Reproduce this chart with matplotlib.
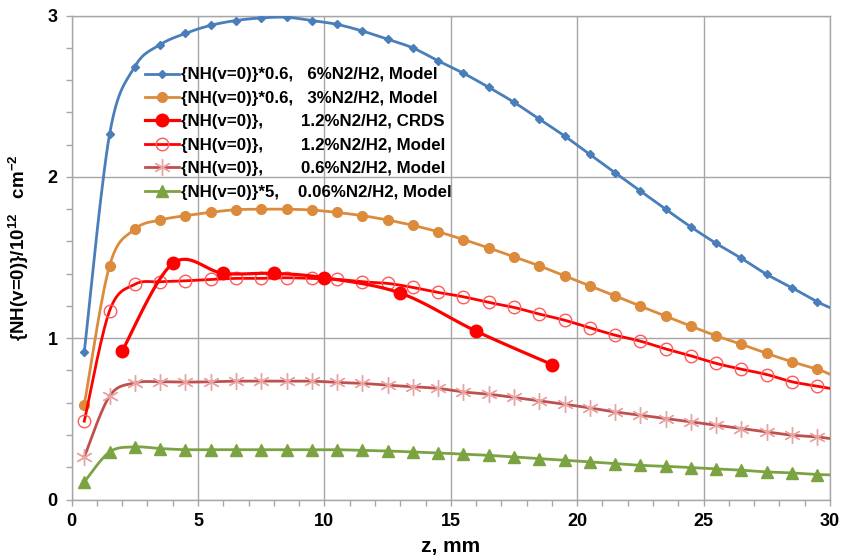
import numpy as np
import matplotlib
matplotlib.use("Agg")
import matplotlib.pyplot as plt
from matplotlib.ticker import MultipleLocator

plt.rcParams['font.family'] = ['Liberation Sans', 'DejaVu Sans']
plt.rcParams['font.weight'] = 'bold'
plt.rcParams['mathtext.fontset'] = 'custom'
plt.rcParams['mathtext.rm'] = 'Liberation Sans:bold'
plt.rcParams['mathtext.default'] = 'rm'

# model grid (last point = where the line meets the right edge, no marker)
z_model = [0.5, 1.5, 2.5, 3.5, 4.5, 5.5, 6.5, 7.5, 8.5, 9.5,
           10.5, 11.5, 12.5, 13.5, 14.5, 15.5, 16.5, 17.5, 18.5, 19.5,
           20.5, 21.5, 22.5, 23.5, 24.5, 25.5, 26.5, 27.5, 28.5, 29.5, 30.0]

nh_6pct = [0.916, 2.264, 2.684, 2.82, 2.89, 2.94, 2.97, 2.986, 2.99, 2.97,
           2.946, 2.905, 2.854, 2.80, 2.72, 2.643, 2.556, 2.463, 2.359, 2.254,
           2.14, 2.026, 1.913, 1.80, 1.69, 1.588, 1.495, 1.396, 1.313, 1.226, 1.19]

nh_3pct = [0.589, 1.45, 1.676, 1.733, 1.76, 1.781, 1.797, 1.80, 1.80, 1.795,
           1.78, 1.76, 1.733, 1.70, 1.66, 1.612, 1.56, 1.505, 1.449, 1.387,
           1.325, 1.263, 1.199, 1.137, 1.075, 1.015, 0.962, 0.906, 0.854, 0.808, 0.777]

nh_12pct = [0.486, 1.17, 1.334, 1.35, 1.356, 1.365, 1.371, 1.371, 1.375, 1.371,
            1.365, 1.35, 1.34, 1.315, 1.284, 1.257, 1.222, 1.191, 1.15, 1.112,
            1.065, 1.019, 0.982, 0.934, 0.891, 0.844, 0.808, 0.775, 0.73, 0.703, 0.689]

nh_06pct = [0.264, 0.641, 0.723, 0.73, 0.728, 0.73, 0.734, 0.734, 0.734, 0.734,
            0.726, 0.72, 0.709, 0.699, 0.689, 0.667, 0.653, 0.633, 0.612, 0.591,
            0.568, 0.543, 0.523, 0.502, 0.481, 0.461, 0.44, 0.419, 0.399, 0.388, 0.378]

nh_006pct = [0.109, 0.295, 0.326, 0.316, 0.309, 0.309, 0.309, 0.309, 0.309, 0.309,
             0.309, 0.305, 0.301, 0.295, 0.289, 0.281, 0.274, 0.264, 0.254, 0.243,
             0.233, 0.223, 0.212, 0.206, 0.198, 0.19, 0.182, 0.171, 0.165, 0.155, 0.153]

z_crds = [2, 4, 6, 8, 10, 13, 16, 19]
nh_crds = [0.922, 1.464, 1.402, 1.402, 1.375, 1.28, 1.044, 0.837]

labels = [
    "{NH(v=0)}*0.6,   6%N2/H2, Model",
    "{NH(v=0)}*0.6,   3%N2/H2, Model",
    "{NH(v=0)},        1.2%N2/H2, CRDS",
    "{NH(v=0)},        1.2%N2/H2, Model",
    "{NH(v=0)},        0.6%N2/H2, Model",
    "{NH(v=0)}*5,    0.06%N2/H2, Model",
]


def smooth(x, y, n=16):
    # Catmull-Rom curve through the points, like Excel's smoothed lines
    p = np.column_stack([x, y]).astype(float)
    p = np.vstack([p[0], p, p[-1]])
    t = np.linspace(0, 1, n, endpoint=False)[:, None]
    seg = []
    for i in range(1, len(p) - 2):
        p0, p1, p2, p3 = p[i - 1], p[i], p[i + 1], p[i + 2]
        seg.append(0.5 * (2 * p1 + (p2 - p0) * t
                          + (2 * p0 - 5 * p1 + 4 * p2 - p3) * t ** 2
                          + (3 * p1 - p0 - 3 * p2 + p3) * t ** 3))
    seg.append(p[-2:-1])
    c = np.vstack(seg)
    return c[:, 0], c[:, 1]


fig = plt.figure(figsize=(8.43, 5.6), dpi=100)
ax = fig.add_axes([0.085, 0.108, 0.8995, 0.864])

styles = [
    (nh_6pct, dict(color='#4A7EBB', lw=2.0), dict(marker='D', ms=4.5, mfc='#4A7EBB', mec='#4A7EBB')),
    (nh_3pct, dict(color='#DB8B3B', lw=2.0), dict(marker='o', ms=7, mfc='#DB8B3B', mec='#DB8B3B')),
    (None, dict(color='#FF0000', lw=2.3), dict(marker='o', ms=9, mfc='#FF0000', mec='#FF0000')),
    (nh_12pct, dict(color='#FF0000', lw=2.0), dict(marker='o', ms=9, mfc='none', mec='#FF5A5A', mew=1.0)),
    (nh_06pct, dict(color='#C0504D', lw=2.0), dict(marker=(6, 2, 0), ms=12, mfc='#E8A3A3', mec='#E8A3A3', mew=1.0)),
    (nh_006pct, dict(color='#7BA342', lw=2.0), dict(marker='^', ms=8, mfc='#7BA342', mec='#7BA342')),
]

handles = []
for (vals, lstyle, mstyle), lab in zip(styles, labels):
    if vals is None:
        xs, ys = z_crds, nh_crds
        sx, sy = smooth(xs, ys)
        ax.plot(sx, sy, zorder=4, **lstyle)
        ax.plot(xs, ys, ls='none', zorder=5, **mstyle)
    else:
        sx, sy = smooth(z_model, vals)
        ax.plot(sx, sy, zorder=3, **lstyle)
        ax.plot(z_model[:-1], vals[:-1], ls='none', zorder=3, **mstyle)
    h, = ax.plot([], [], **lstyle, **mstyle)
    handles.append(h)

ax.set_xlim(0, 30)
ax.set_ylim(0, 3)
ax.xaxis.set_major_locator(MultipleLocator(5))
ax.xaxis.set_minor_locator(MultipleLocator(1))
ax.yaxis.set_major_locator(MultipleLocator(1))
ax.yaxis.set_minor_locator(MultipleLocator(0.2))
ax.grid(True, which='major', color='#A6A6A6', lw=1.0)
ax.set_axisbelow(True)
for s in ax.spines.values():
    s.set_color('#A6A6A6')
    s.set_linewidth(1.0)
ax.tick_params(which='both', direction='out', color='#A6A6A6', length=4, width=1.0)
ax.tick_params(axis='both', labelsize=13, pad=6)

ax.set_xlabel('z, mm', fontsize=15, fontweight='bold', labelpad=5)
ax.set_ylabel(r'{NH(v=0)}/10$^{12}$   cm$^{-2}$', fontsize=13.5, fontweight='bold')
ax.yaxis.set_label_coords(-0.053, 0.52)

ax.legend(handles, labels, loc='upper left', bbox_to_anchor=(0.097, 0.893),
          frameon=False, fontsize=12.2, handlelength=2.0, handletextpad=0.1,
          labelspacing=0.5, borderpad=0, borderaxespad=0)

fig.savefig('out.png', dpi=100)
